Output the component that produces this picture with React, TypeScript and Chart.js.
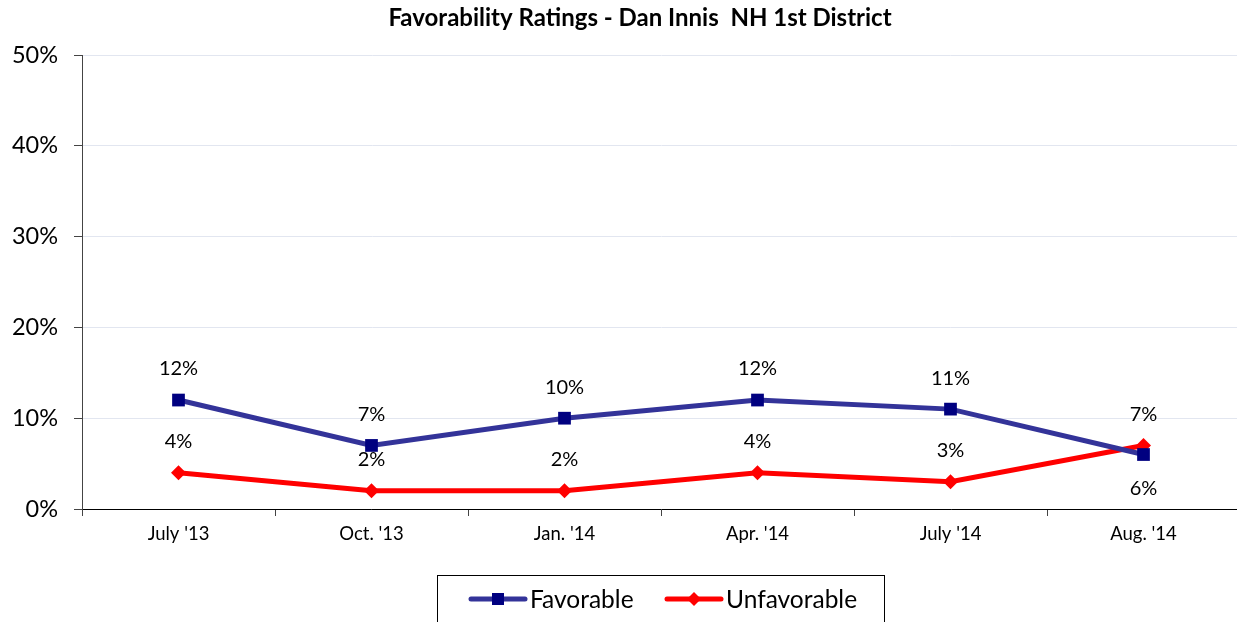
import React, { useEffect, useRef } from "react";
import { Chart, registerables } from "chart.js";

Chart.register(...registerables);

const titleText = "Favorability Ratings - Dan Innis  NH 1st District";
const categories = ["July '13", "Oct. '13", "Jan. '14", "Apr. '14", "July '14", "Aug. '14"];
const favorable = [12, 7, 10, 12, 11, 6];
const unfavorable = [4, 2, 2, 4, 3, 7];
const seriesNames = ["Favorable", "Unfavorable"];

const FONT = "Lato, 'Open Sans', sans-serif";
const FAV_LINE = "#333399";
const FAV_MARK = "#000080";
const UNF = "#ff0000";

const decorPlugin = {
  id: "decor",
  afterDatasetsDraw(chart: any) {
    const ctx = chart.ctx;
    ctx.save();
    ctx.fillStyle = "#000";
    ctx.font = `20px ${FONT}`;
    ctx.textAlign = "center";
    ctx.textBaseline = "middle";
    chart.data.datasets.forEach((ds: any, di: number) => {
      const meta = chart.getDatasetMeta(di);
      meta.data.forEach((pt: any, i: number) => {
        const v = ds.data[i];
        let below = false;
        if (di === 0) {
          const other = chart.data.datasets[1].data[i];
          below = v < other;
        }
        const y = below ? pt.y + 34 : pt.y - 31;
        ctx.fillText(v + "%", pt.x, y);
      });
    });
    ctx.restore();
  },
  afterDraw(chart: any) {
    const ctx = chart.ctx;
    ctx.save();
    // title
    ctx.fillStyle = "#000";
    ctx.font = `bold 24px ${FONT}`;
    ctx.textAlign = "center";
    ctx.textBaseline = "middle";
    ctx.fillText(titleText, 640, 18);
    // legend box
    ctx.strokeStyle = "#000";
    ctx.lineWidth = 1;
    ctx.strokeRect(437.5, 575.5, 447, 60);
    const ly = 599;
    const drawItem = (x0: number, color: string, mark: string, kind: string, text: string) => {
      ctx.strokeStyle = color;
      ctx.lineWidth = 5;
      ctx.lineCap = "round";
      ctx.beginPath();
      ctx.moveTo(x0, ly);
      ctx.lineTo(x0 + 54, ly);
      ctx.stroke();
      ctx.fillStyle = mark;
      const cx = x0 + 27;
      if (kind === "rect") {
        ctx.fillRect(cx - 6, ly - 6, 12, 12);
      } else {
        ctx.beginPath();
        ctx.moveTo(cx, ly - 7);
        ctx.lineTo(cx + 7, ly);
        ctx.lineTo(cx, ly + 7);
        ctx.lineTo(cx - 7, ly);
        ctx.closePath();
        ctx.fill();
      }
      ctx.fillStyle = "#000";
      ctx.font = `24.5px ${FONT}`;
      ctx.textAlign = "left";
      ctx.textBaseline = "middle";
      ctx.fillText(text, x0 + 59, ly + 1);
    };
    drawItem(471, FAV_LINE, FAV_MARK, "rect", seriesNames[0]);
    drawItem(667, UNF, UNF, "rectRot", seriesNames[1]);
    ctx.restore();
  },
};

export default function App() {
  const ref = useRef<HTMLCanvasElement | null>(null);
  useEffect(() => {
    if (!ref.current) return;
    const chart = new Chart(ref.current, {
      type: "line",
      data: {
        labels: categories,
        datasets: [
          {
            label: seriesNames[0],
            data: favorable,
            borderColor: FAV_LINE,
            backgroundColor: FAV_MARK,
            pointBackgroundColor: FAV_MARK,
            pointBorderColor: FAV_MARK,
            borderWidth: 5,
            pointStyle: "rect",
            pointRadius: 9,
            pointBorderWidth: 0,
            tension: 0,
          },
          {
            label: seriesNames[1],
            data: unfavorable,
            borderColor: UNF,
            backgroundColor: UNF,
            pointBackgroundColor: UNF,
            pointBorderColor: UNF,
            borderWidth: 5,
            pointStyle: "rectRot",
            pointRadius: 7.5,
            pointBorderWidth: 0,
            tension: 0,
          },
        ],
      },
      options: {
        animation: false,
        responsive: true,
        maintainAspectRatio: false,
        layout: { padding: { top: 55, bottom: 47, left: 0, right: 0 } },
        plugins: {
          legend: { display: false },
          title: { display: false },
          tooltip: { enabled: false },
        },
        scales: {
          x: {
            offset: true,
            afterFit: (s: any) => {
              s.height = 66;
            },
            grid: {
              offset: true,
              drawOnChartArea: false,
              drawTicks: true,
              tickLength: 7,
              color: "#444",
            },
            border: { color: "#000", width: 1 },
            ticks: {
              color: "#000",
              font: { family: FONT, size: 18.5 },
              padding: 7,
              maxRotation: 0,
            },
          },
          y: {
            min: 0,
            max: 50,
            afterFit: (s: any) => {
              s.width = 82;
            },
            grid: {
              color: "#e2e6f0",
              tickColor: "#444",
              tickLength: 8,
              drawTicks: true,
            },
            border: { color: "#444", width: 1 },
            ticks: {
              stepSize: 10,
              color: "#000",
              font: { family: FONT, size: 23.5 },
              padding: 16,
              callback: (v: any) => v + "%",
            },
          },
        },
      },
      plugins: [decorPlugin],
    });
    return () => chart.destroy();
  }, []);
  return (
    <div style={{ position: "absolute", left: 0, top: 0, width: 1237, height: 622, overflow: "hidden", background: "#fff" }}>
      <div style={{ position: "absolute", left: 0, top: 0, width: 1249, height: 622 }}>
        <canvas ref={ref} />
      </div>
    </div>
  );
}
